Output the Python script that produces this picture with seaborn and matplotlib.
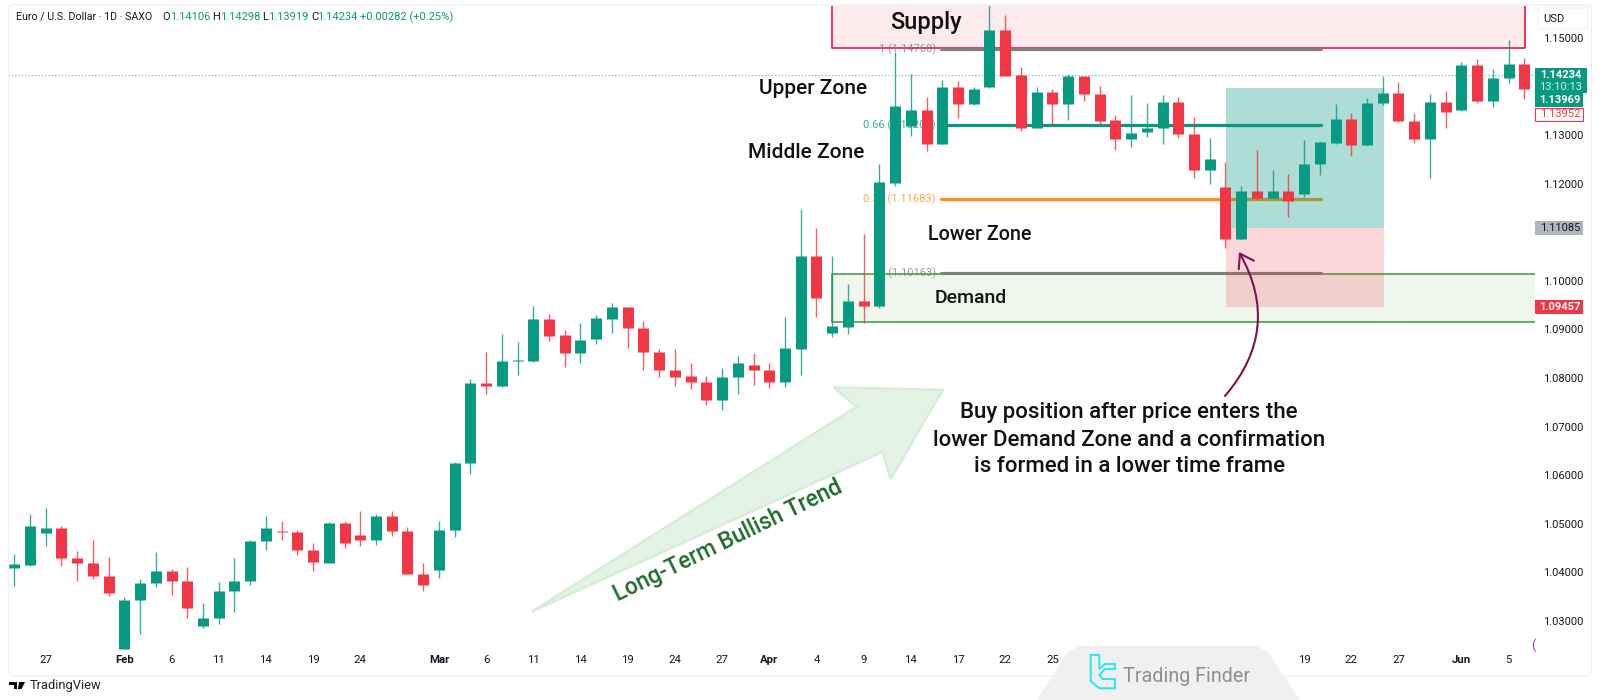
# EUR/USD daily candles with supply / demand zones

import numpy as np
import pandas as pd
import seaborn as sns
import matplotlib.pyplot as plt
from matplotlib.patches import Polygon, Rectangle, FancyBboxPatch, FancyArrowPatch

opens = [1.0409, 1.0416, 1.0481, 1.0492, 1.0429, 1.0420, 1.0392, 1.0243, 1.0343, 1.0379,
         1.0403, 1.0383, 1.0290, 1.0306, 1.0361, 1.0382, 1.0464, 1.0486, 1.0483, 1.0446,
         1.0420, 1.0502, 1.0476, 1.0467, 1.0515, 1.0485, 1.0397, 1.0404, 1.0487, 1.0624,
         1.0790, 1.0783, 1.0835, 1.0835, 1.0921, 1.0888, 1.0852, 1.0880, 1.0922, 1.0946,
         1.0903, 1.0854, 1.0816, 1.0803, 1.0792, 1.0754, 1.0802, 1.0826, 1.0816, 1.0792,
         1.0860, 1.1051, 1.0892, 1.0905, 1.0958, 1.0947, 1.1202, 1.1318, 1.1351, 1.1281,
         1.1399, 1.1363, 1.1398, 1.1516, 1.1423, 1.1315, 1.1388, 1.1364, 1.1421, 1.1385,
         1.1330, 1.1292, 1.1305, 1.1315, 1.1368, 1.1301, 1.1228, 1.1193, 1.1085, 1.1185,
         1.1171, 1.1185, 1.1178, 1.1241, 1.1283, 1.1332, 1.1279, 1.1366, 1.1387, 1.1329,
         1.1292, 1.1368, 1.1351, 1.1444, 1.1370, 1.1418, 1.1445]
highs = [1.0438, 1.0520, 1.0533, 1.0495, 1.0444, 1.0466, 1.0432, 1.0350, 1.0387, 1.0442,
         1.0406, 1.0411, 1.0336, 1.0381, 1.0429, 1.0466, 1.0515, 1.0506, 1.0487, 1.0461,
         1.0503, 1.0505, 1.0527, 1.0519, 1.0527, 1.0493, 1.0420, 1.0505, 1.0627, 1.0797,
         1.0854, 1.0890, 1.0874, 1.0948, 1.0931, 1.0898, 1.0912, 1.0929, 1.0954, 1.0946,
         1.0918, 1.0860, 1.0859, 1.0831, 1.0803, 1.0820, 1.0846, 1.0851, 1.0831, 1.0925,
         1.1147, 1.1108, 1.1051, 1.0993, 1.1096, 1.1241, 1.1471, 1.1425, 1.1379, 1.1413,
         1.1411, 1.1398, 1.1567, 1.1547, 1.1440, 1.1398, 1.1395, 1.1425, 1.1421, 1.1400,
         1.1342, 1.1382, 1.1366, 1.1382, 1.1379, 1.1337, 1.1294, 1.1244, 1.1195, 1.1268,
         1.1228, 1.1220, 1.1289, 1.1286, 1.1364, 1.1346, 1.1375, 1.1421, 1.1408, 1.1346,
         1.1385, 1.1390, 1.1451, 1.1456, 1.1435, 1.1495, 1.1458]
lows = [1.0371, 1.0413, 1.0455, 1.0414, 1.0383, 1.0386, 1.0351, 1.0243, 1.0273, 1.0369,
        1.0354, 1.0306, 1.0286, 1.0294, 1.0318, 1.0373, 1.0446, 1.0467, 1.0435, 1.0402,
        1.0419, 1.0450, 1.0454, 1.0457, 1.0475, 1.0397, 1.0361, 1.0388, 1.0473, 1.0602,
        1.0767, 1.0782, 1.0807, 1.0833, 1.0877, 1.0823, 1.0831, 1.0870, 1.0893, 1.0862,
        1.0816, 1.0801, 1.0783, 1.0778, 1.0745, 1.0735, 1.0767, 1.0785, 1.0780, 1.0782,
        1.0807, 1.0925, 1.0885, 1.0890, 1.0914, 1.0943, 1.1195, 1.1298, 1.1266, 1.1281,
        1.1335, 1.1362, 1.1396, 1.1421, 1.1309, 1.1315, 1.1320, 1.1331, 1.1370, 1.1320,
        1.1268, 1.1276, 1.1296, 1.1281, 1.1293, 1.1212, 1.1198, 1.1067, 1.1085, 1.1166,
        1.1170, 1.1132, 1.1173, 1.1218, 1.1282, 1.1257, 1.1279, 1.1362, 1.1326, 1.1284,
        1.1211, 1.1315, 1.1350, 1.1366, 1.1358, 1.1406, 1.1373]
closes = [1.0417, 1.0495, 1.0492, 1.0429, 1.0420, 1.0392, 1.0358, 1.0343, 1.0379, 1.0403,
          1.0382, 1.0327, 1.0306, 1.0361, 1.0383, 1.0464, 1.0492, 1.0483, 1.0446, 1.0421,
          1.0502, 1.0460, 1.0467, 1.0515, 1.0485, 1.0397, 1.0374, 1.0488, 1.0625, 1.0790,
          1.0783, 1.0834, 1.0836, 1.0921, 1.0887, 1.0852, 1.0879, 1.0923, 1.0946, 1.0902,
          1.0854, 1.0816, 1.0802, 1.0792, 1.0754, 1.0802, 1.0831, 1.0816, 1.0792, 1.0861,
          1.1051, 1.0964, 1.0907, 1.0958, 1.0947, 1.1203, 1.1360, 1.1351, 1.1281, 1.1399,
          1.1363, 1.1394, 1.1516, 1.1421, 1.1315, 1.1388, 1.1364, 1.1421, 1.1385, 1.1329,
          1.1292, 1.1303, 1.1314, 1.1368, 1.1301, 1.1228, 1.1250, 1.1086, 1.1185, 1.1171,
          1.1185, 1.1163, 1.1241, 1.1285, 1.1332, 1.1279, 1.1366, 1.1387, 1.1328, 1.1292,
          1.1368, 1.1348, 1.1444, 1.1370, 1.1418, 1.1445, 1.1394]

price_ticks = [1.03, 1.04, 1.05, 1.06, 1.07, 1.08, 1.09, 1.10, 1.12, 1.13, 1.15]
date_days = [2, 7, 10, 13, 16, 19, 22, 27, 30, 33, 36, 39, 42, 45, 48, 51, 54, 57, 60, 63, 66,
             82, 85, 88, 92, 95]
date_labels = ['27', 'Feb', '6', '11', '14', '19', '24', 'Mar', '6', '11', '14', '19', '24',
               '27', 'Apr', '4', '9', '14', '17', '22', '25', '19', '22', '27', 'Jun', '5']
months = ['Feb', 'Mar', 'Apr', 'Jun']

fib_levels = [1.14768, 1.13202, 1.11683, 1.10163]
fib_labels = ['1 (1.14768)', '0.66 (1.13202)', '0.33 (1.11683)', '0 (1.10163)']
last_price = 1.14234
supply_low = 1.1478
demand_low, demand_high = 1.0915, 1.1014
stop_price, entry_price, target_price = 1.09457, 1.11085, 1.1396

UP = '#089981'
DOWN = '#F23645'
INK = '#131722'

sns.set_theme(style='white')
plt.rcParams['font.family'] = ['Roboto', 'DejaVu Sans']

days = np.arange(len(opens))
candles = pd.DataFrame({'day': days, 'open': opens, 'high': highs, 'low': lows, 'close': closes})
candles['side'] = np.where(candles['close'] >= candles['open'], 'up', 'down')
wicks = candles.melt(id_vars=['day', 'side'], value_vars=['high', 'low'], value_name='price')
bodies = candles.melt(id_vars=['day', 'side'], value_vars=['open', 'close'], value_name='price')

fig = plt.figure(figsize=(16, 7), dpi=100, facecolor='white')
ax = fig.add_axes([8 / 1600, 50 / 700, 1527 / 1600, 645 / 700])
ax.set_xlim(-0.394, 96.68)
ax.set_ylim(1.02402, 1.15673)

# zones sit under everything else
ax.fill_between([52, 96.07], supply_low, 1.15673, color='#fdeaec', lw=0, zorder=1)
ax.plot([52, 52, 96.07, 96.07], [1.15673, supply_low, supply_low, 1.15673],
        color='#e11d48', lw=1.2, zorder=1.5)
ax.fill_between([52, 96.68], demand_low, demand_high, color='#eff7ec', lw=0, zorder=1)
ax.plot([96.68, 52, 52, 96.68], [demand_high, demand_high, demand_low, demand_low],
        color='#4a9d4a', lw=1.2, zorder=1.5)

ax.axhline(last_price, color=UP, lw=0.8, ls=(0, (1, 2)), alpha=0.7, zorder=1.2)

fib_colors = ['#808080', UP, '#F7931A', '#808080']
for level, label, col in zip(fib_levels, fib_labels, fib_colors):
    ax.plot([58.9, 83.1], [level, level], color=col, lw=2.3, solid_capstyle='round', zorder=2)
    ax.text(58.6, level, label, color=col, fontsize=8, ha='right', va='center',
            alpha=0.8, zorder=2)

# position box goes over the fib lines
ax.fill_between([77.05, 87.05], entry_price, target_price, color=UP, alpha=0.33, lw=0, zorder=3)
ax.fill_between([77.05, 87.05], stop_price, entry_price, color=DOWN, alpha=0.2, lw=0, zorder=3)

sns.lineplot(data=wicks, x='day', y='price', units='day', hue='side', estimator=None, sort=False,
             palette={'up': UP, 'down': DOWN}, lw=1.0, alpha=0.8, legend=False, ax=ax,
             solid_capstyle='butt', zorder=5)
sns.lineplot(data=bodies, x='day', y='price', units='day', hue='side', estimator=None, sort=False,
             palette={'up': UP, 'down': DOWN}, lw=7.9, legend=False, ax=ax,
             solid_capstyle='butt', zorder=6)

ax.set_xlabel('')
ax.set_ylabel('')
ax.yaxis.tick_right()
ax.set_yticks(price_ticks, [f'{p:.5f}' for p in price_ticks])
ax.set_xticks(date_days, date_labels)
ax.tick_params(axis='y', length=0, pad=5.5, labelsize=8, labelcolor=INK)
ax.tick_params(axis='x', length=0, pad=3.8, labelsize=8.2, labelcolor=INK)
for tick in ax.get_xticklabels():
    if tick.get_text() in months:
        tick.set_fontweight('bold')
sns.despine(ax=ax, left=True, right=True, top=True, bottom=True)
ax.patch.set_alpha(0)

# pixel overlay for the drawn annotations, labels and logos
over = fig.add_axes([0, 0, 1, 1], zorder=10)
over.set_xlim(0, 1600)
over.set_ylim(700, 0)
over.axis('off')

over.add_patch(FancyBboxPatch((8.5, 5), 1583, 671, boxstyle='round,pad=0,rounding_size=4',
                              fc='none', ec='#f0f3f5', lw=1.2))

over.add_patch(Polygon([(531.7, 611.7), (856.7, 406.7), (833.3, 387.3), (942.7, 390),
                        (890.7, 479.3), (882.7, 451.7)], closed=True,
                       fc='#e3f3e4', ec='#d6edd8', lw=1.8, joinstyle='miter'))
over.text(728, 541, 'Long-Term Bullish Trend', color='#1f6b2b', fontsize=16.4, fontweight='medium',
          rotation=25.9, ha='center', va='center', rotation_mode='anchor')

over.add_patch(FancyArrowPatch((1225, 396), (1239, 252), connectionstyle='arc3,rad=0.35',
                               arrowstyle='->,head_length=3.6,head_width=2.4', mutation_scale=2.6,
                               color='#7b1450', lw=1.5, shrinkA=0, shrinkB=0))

over.text(926, 22, 'Supply', color='#111111', fontsize=17, fontweight='medium', ha='center', va='center')
over.text(867, 88, 'Upper Zone', color='#111111', fontsize=15, fontweight='medium', ha='right', va='center')
over.text(864, 153, 'Middle Zone', color='#111111', fontsize=15, fontweight='medium', ha='right', va='center')
over.text(928, 234, 'Lower Zone', color='#111111', fontsize=14.2, fontweight='medium', ha='left', va='center')
over.text(935, 298, 'Demand', color='#111111', fontsize=14, fontweight='medium', ha='left', va='center')
for y, line in zip([412.5, 440, 466.5], ['Buy position after price enters the',
                                         'lower Demand Zone and a confirmation',
                                         'is formed in a lower time frame']):
    over.text(1129, y, line, color='#111111', fontsize=16.05, fontweight='medium', ha='center', va='center')

# legend strip at the top
over.text(16, 17, 'Euro / U.S. Dollar · 1D · SAXO', color=INK, fontsize=7.7, ha='left', va='center')
header = [(162, 'O', INK), (170, '1.14106', UP), (212, 'H', INK), (220, '1.14298', UP),
          (262, 'L', INK), (268, '1.13919', UP), (311, 'C', INK), (317, '1.14234', UP),
          (360, '+0.00282 (+0.25%)', UP)]
for x, txt, col in header:
    over.text(x, 17, txt, color=col, fontsize=8, ha='left', va='center')

# price labels on the right scale
over.add_patch(FancyBboxPatch((1538, 8), 50, 21, boxstyle='round,pad=0,rounding_size=3',
                              fc='white', ec='#f0f3f5', lw=1))
over.text(1554, 19, 'USD', color=INK, fontsize=8, ha='center', va='center')
over.add_patch(Rectangle((1535, 68), 52, 25, fc=UP, lw=0))
over.text(1561, 75, '1.14234', color='white', fontsize=8, fontweight='bold', ha='center', va='center')
over.text(1561, 87, '13:10:13', color='#d3efe9', fontsize=8, ha='center', va='center')
over.add_patch(Rectangle((1535, 93), 48, 13.5, fc=UP, lw=0))
over.text(1560, 100, '1.13969', color='white', fontsize=8, fontweight='bold', ha='center', va='center')
over.add_patch(Rectangle((1535, 107.5), 48, 13, fc='white', ec=DOWN, lw=0.8))
over.text(1560, 114, '1.13952', color=DOWN, fontsize=8, ha='center', va='center')
over.add_patch(Rectangle((1535, 221), 48, 14, fc='#b2b5be', lw=0))
over.text(1560, 228, '1.11085', color=INK, fontsize=8, ha='center', va='center')
over.add_patch(Rectangle((1535, 300), 48, 14, fc=DOWN, lw=0))
over.text(1560, 307, '1.09457', color='white', fontsize=8, fontweight='bold', ha='center', va='center')
over.text(1533, 645, '(', color='#9c27b0', fontsize=9, ha='center', va='center')

# Trading Finder badge covers the date scale
over.add_patch(Polygon([(1037, 700), (1068, 652), (1080, 646), (1256, 646), (1268, 652), (1300, 700)],
                       closed=True, fc='#f0f0f0', lw=0))
logo = np.array([(92, 30), (118, 30), (118, 72), (135, 57), (165, 57), (165, 72), (135, 72), (118, 90),
                 (128, 102), (165, 102), (165, 130), (118, 130), (92, 108), (92, 30)])
over.plot(1060 + logo[:, 0] / 3, 645 + logo[:, 1] / 3, color='#2fe6f2', lw=1.5, solid_joinstyle='round')
over.text(1123, 676, 'Trading Finder', color='#8f8f8f', fontsize=14.2, ha='left', va='center')

# TradingView mark
over.add_patch(Polygon([(9, 682), (17, 682), (17, 689), (13.5, 689), (13.5, 685), (9, 685)], closed=True, fc='black', lw=0))
over.add_patch(Polygon([(19, 682), (25, 682), (21.5, 689), (18, 689)], closed=True, fc='black', lw=0))
over.text(30, 686, 'TradingView', color='#222222', fontsize=9.3, ha='left', va='center')

fig.savefig('out.png', dpi=100)
